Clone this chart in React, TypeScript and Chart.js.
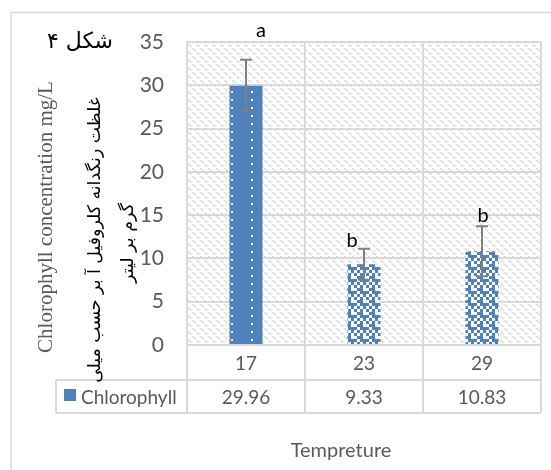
import React, { useEffect, useRef } from "react";
import { Chart, registerables } from "chart.js";
Chart.register(...registerables);

const categories = ["17", "23", "29"];
const chlorophyll = [29.96, 9.33, 10.83];
const valueLabels = ["29.96", "9.33", "10.83"];
const errors = [3.0, 1.8, 2.9];
const letters = ["a", "b", "b"];
const yMin = 0;
const yMax = 35;
const yStep = 5;
const seriesName = "Chlorophyll";
const yTitleEn = "Chlorophyll concentration mg/L";
const yTitleFa1 = "غلظت رنگدانه کلروفیل آ بر حسب میلی";
const yTitleFa2 = "گرم بر لیتر";
const figureLabel = "شکل ۴";
const xTitle = "Tempreture";

const BLUE = "#4F81BD";
const GRID = "#D9D9D9";
const TXT = "#595959";
const SANS = "Lato, 'Open Sans', sans-serif";

function makePattern(ctx: CanvasRenderingContext2D, w: number, h: number, draw: (g: CanvasRenderingContext2D) => void) {
  const c = document.createElement("canvas");
  c.width = w;
  c.height = h;
  const g = c.getContext("2d")!;
  draw(g);
  return ctx.createPattern(c, "repeat")!;
}

function fitFont(ctx: CanvasRenderingContext2D, text: string, family: string, target: number) {
  ctx.font = `40px ${family}`;
  const w = ctx.measureText(text).width || 1;
  return (40 * target) / w;
}

export default function App() {
  const ref = useRef<HTMLCanvasElement>(null);
  useEffect(() => {
    const canvas = ref.current!;
    const ctx = canvas.getContext("2d")!;

    const hatch = makePattern(ctx, 8, 8, (g) => {
      g.fillStyle = "#fff";
      g.fillRect(0, 0, 8, 8);
      g.fillStyle = "#DCDCDC";
      for (let i = 0; i < 8; i++) {
        if (i % 4 === 3) continue;
        g.fillRect(i, i, 1, 1);
        g.fillRect((i + 1) % 8, i, 1, 1);
      }
    });
    const dots = makePattern(ctx, 20, 8, (g) => {
      g.fillStyle = BLUE;
      g.fillRect(0, 0, 20, 8);
      g.fillStyle = "#fff";
      g.fillRect(11, 3, 2, 2);
    });
    const checker = makePattern(ctx, 12, 12, (g) => {
      g.fillStyle = BLUE;
      g.fillRect(0, 0, 12, 12);
      g.fillStyle = "#fff";
      const whites = [
        [0, 1], [0, 2],
        [1, 3],
        [2, 0], [2, 2],
        [3, 1], [3, 3],
      ];
      whites.forEach(([r, cc]) => g.fillRect(cc * 3, r * 3, 3, 3));
    });

    const decor = {
      id: "decor",
      beforeDraw(chart: any) {
        const c = chart.ctx;
        const a = chart.chartArea;
        c.save();
        c.fillStyle = "#fff";
        c.fillRect(0, 0, chart.width, chart.height);
        c.strokeStyle = GRID;
        c.lineWidth = 1.5;
        c.beginPath();
        c.moveTo(11, chart.height);
        c.lineTo(11, 12.5);
        c.lineTo(chart.width, 12.5);
        c.stroke();
        c.fillStyle = hatch;
        c.fillRect(a.left, a.top, a.right - a.left, a.bottom - a.top);
        c.restore();
      },
      afterDatasetsDraw(chart: any) {
        const c = chart.ctx;
        const ys = chart.scales.y;
        const meta = chart.getDatasetMeta(0);
        c.save();
        c.strokeStyle = "#808080";
        c.lineWidth = 2;
        chlorophyll.forEach((v, i) => {
          const x = meta.data[i].x;
          const t = ys.getPixelForValue(v + errors[i]);
          const b = ys.getPixelForValue(v - errors[i]);
          c.beginPath();
          c.moveTo(x, t);
          c.lineTo(x, b);
          c.moveTo(x - 6, t);
          c.lineTo(x + 6, t);
          c.moveTo(x - 6, b);
          c.lineTo(x + 6, b);
          c.stroke();
        });
        const dx = [15, -12, 1];
        const dy = [23, 2, 4];
        c.fillStyle = "#000";
        c.font = `20px ${SANS}`;
        c.textAlign = "center";
        c.textBaseline = "alphabetic";
        letters.forEach((l, i) => {
          const x = meta.data[i].x;
          const t = ys.getPixelForValue(chlorophyll[i] + errors[i]);
          c.fillText(l, x + dx[i], t - dy[i]);
        });
        c.restore();
      },
      afterDraw(chart: any) {
        const c = chart.ctx;
        const a = chart.chartArea;
        const meta = chart.getDatasetMeta(0);
        const row1 = a.bottom;
        const row2 = a.bottom + 35;
        const row3 = a.bottom + 68;
        const legLeft = 56;
        const step = (a.right - a.left) / categories.length;
        c.save();
        c.strokeStyle = GRID;
        c.lineWidth = 2;
        c.beginPath();
        c.moveTo(legLeft, row2);
        c.lineTo(a.right, row2);
        c.moveTo(legLeft, row3);
        c.lineTo(a.right, row3);
        c.moveTo(legLeft, row2);
        c.lineTo(legLeft, row3);
        for (let i = 0; i <= categories.length; i++) {
          const x = a.left + step * i;
          c.moveTo(x, row1);
          c.lineTo(x, row3);
        }
        c.stroke();
        c.fillStyle = TXT;
        c.font = `19px ${SANS}`;
        c.textAlign = "center";
        c.textBaseline = "middle";
        categories.forEach((cat, i) => {
          const x = meta.data[i].x;
          c.fillText(cat, x, (row1 + row2) / 2 + 1);
          c.fillText(valueLabels[i], x, (row2 + row3) / 2 + 1);
        });
        c.fillStyle = BLUE;
        c.fillRect(64, 389, 12, 12);
        c.fillStyle = TXT;
        c.textAlign = "left";
        c.fillText(seriesName, 81, (row2 + row3) / 2 + 1);
        c.textAlign = "center";
        c.font = `20px ${SANS}`;
        c.fillText(xTitle, 341, 451);

        const serif = "'Liberation Serif', 'Times New Roman', serif";
        c.save();
        c.translate(46, 217);
        c.rotate(-Math.PI / 2);
        c.font = `21px ${serif}`;
        c.fillStyle = TXT;
        c.fillText(yTitleEn, 0, 0);
        c.restore();

        const ar = "'DejaVu Sans', sans-serif";
        c.fillStyle = "#000";
        c.save();
        c.translate(95, 240);
        c.rotate(-Math.PI / 2);
        const s1 = fitFont(c, yTitleFa1, ar, 286);
        c.font = `${s1}px ${ar}`;
        c.fillText(yTitleFa1, 0, 0);
        c.restore();

        c.save();
        c.translate(128, 243);
        c.rotate(-Math.PI / 2);
        const s2 = fitFont(c, yTitleFa2, ar, 80);
        c.font = `${s2}px ${ar}`;
        c.fillText(yTitleFa2, 0, 0);
        c.restore();

        const s3 = fitFont(c, figureLabel, ar, 66);
        c.font = `${s3}px ${ar}`;
        c.fillText(figureLabel, 80, 42);
        c.restore();
      },
    };

    const chart = new Chart(canvas, {
      type: "bar",
      data: {
        labels: categories,
        datasets: [
          {
            label: seriesName,
            data: chlorophyll,
            backgroundColor: [dots, checker, checker],
            borderWidth: 0,
            categoryPercentage: 1,
            barPercentage: 0.28,
          },
        ],
      },
      options: {
        responsive: false,
        animation: false,
        layout: { padding: { left: 10, right: 10, top: 42, bottom: 125 } },
        plugins: { legend: { display: false }, tooltip: { enabled: false } },
        scales: {
          x: {
            grid: { offset: true, color: GRID, lineWidth: 2, drawTicks: false },
            ticks: { display: false },
            border: { display: true, color: GRID, width: 2 },
            afterFit: (s: any) => {
              s.height = 0;
            },
          },
          y: {
            min: yMin,
            max: yMax,
            ticks: { stepSize: yStep, color: TXT, font: { family: SANS, size: 21 }, padding: 23 },
            grid: { color: GRID, lineWidth: 2, drawTicks: false },
            border: { display: true, color: GRID, width: 2 },
            afterFit: (s: any) => {
              s.width = 177;
            },
          },
        },
      },
      plugins: [decor],
    } as any);
    return () => chart.destroy();
  }, []);
  return (
    <div style={{ position: "fixed", left: 0, top: 0, width: 551, height: 470 }}>
      <canvas ref={ref} width={551} height={470} style={{ width: 551, height: 470 }} />
    </div>
  );
}
